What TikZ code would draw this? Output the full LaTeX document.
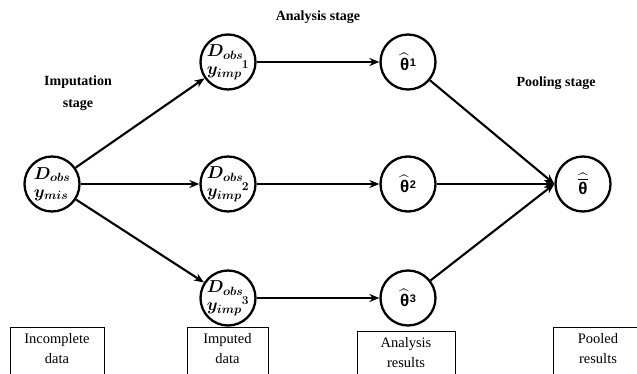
\documentclass[tikz,border=0pt]{standalone}
\usepackage{amsmath,bm}
\usepackage{fontspec}
\setmainfont{Liberation Serif}
\newfontfamily\thfont{Liberation Sans}
\usetikzlibrary{arrows.meta}
\newcommand{\thh}[1]{$\widehat{\text{\thfont\bfseries θ}}$\kern0.5pt\raisebox{4pt}{\thfont\bfseries\fontsize{11}{11}\selectfont #1}}
\begin{document}
\begin{tikzpicture}[x=1pt,y=-1pt,
  st/.style={circle,draw,line width=2.3pt,minimum size=55pt,inner sep=0pt,align=left,font=\fontsize{16.5}{22}\selectfont},
  th/.style={circle,draw,line width=2.3pt,minimum size=55pt,inner sep=0pt,font=\fontsize{17}{18}\selectfont},
  lab/.style={font=\bfseries\fontsize{14}{22}\selectfont,align=center},
  boxt/.style={anchor=north,align=center,inner xsep=0pt,inner ysep=6pt,font=\fontsize{14.5}{20}\selectfont},
  boxline/.style={line width=0.6pt},
  arr/.style={line width=2.1pt,-{Stealth[length=10pt,width=8pt]}}]
\useasboundingbox (0,0) rectangle (637,374);

% stage labels
\node[lab] (ls) at (318,17) {Analysis stage};
\node[lab] (li) at (78,93) {Imputation\\stage};
\node[lab] (lp) at (556,83) {Pooling stage};

% circles
\node[st] (L) at (52,184) {$\bm{D_{obs}}$\\[-4pt]$\bm{y_{mis}}$};
\node[st] (M1) at (228,62) {$\bm{D_{obs}}$\\[-4pt]${\bm{y_{imp}}}^{\bm{1}}$};
\node[st] (M2) at (228,184) {$\bm{D_{obs}}$\\[-4pt]${\bm{y_{imp}}}^{\bm{2}}$};
\node[st] (M3) at (228,298) {$\bm{D_{obs}}$\\[-4pt]${\bm{y_{imp}}}^{\bm{3}}$};
\node[th] (T1) at (408,62) {\thh{1}};
\node[th] (T2) at (408,184) {\thh{2}};
\node[th] (T3) at (408,298) {\thh{3}};
\node[th] (F) at (583,184) {$\widehat{\overline{\text{\thfont\bfseries θ}}}$};

% connectors
\draw[arr] (L) -- (M1);
\draw[arr] (L) -- (M2);
\draw[arr] (L) -- (M3);
\draw[arr] (M1) -- (T1);
\draw[arr] (M2) -- (T2);
\draw[arr] (M3) -- (T3);
\draw[arr] (T1) -- (F.west);
\draw[arr] (T2) -- (F.west);
\draw[arr] (T3) -- (F.west);

% bottom boxes (open at the bottom edge)
\node[boxt,text width=94pt] (B1) at (57,327) {Incomplete\\data};
\node[boxt,text width=81pt] (B2) at (227.5,327) {Imputed\\data};
\node[boxt,text width=98pt] (B3) at (406,331) {Analysis\\results};
\node[boxt,text width=90pt] (B4) at (598,327) {Pooled\\results};
\foreach \b in {B1,B2,B3,B4}
  \draw[boxline] ([yshift=-20pt]\b.south west) -- (\b.north west) -- (\b.north east) -- ([yshift=-20pt]\b.south east);
\end{tikzpicture}
\end{document}
